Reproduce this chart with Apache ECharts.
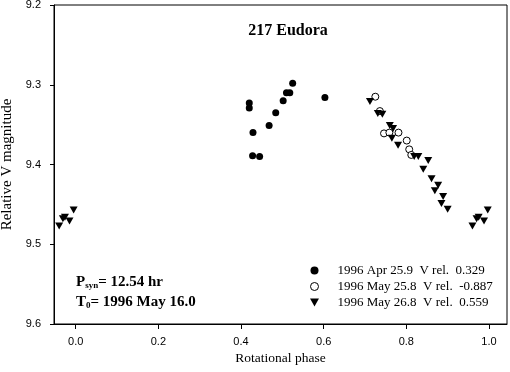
<!DOCTYPE html>
<html>
<head>
<meta charset="utf-8">
<script src="https://cdn.jsdelivr.net/npm/echarts@6/dist/echarts.min.js"></script>
<style>
html,body{margin:0;padding:0;background:#fff;}
#chart{width:510px;height:372px;}
</style>
</head>
<body>
<div id="chart"></div>
<script>
// ---- Data ----
const seriesNames = [
  '1996 Apr 25.9  V rel.  0.329',
  '1996 May 25.8  V rel.  -0.887',
  '1996 May 26.8  V rel.  0.559'
];
// 1996 Apr 25.9 (filled circles)
const aprPhase = [0.420, 0.420, 0.429, 0.428, 0.445, 0.468, 0.484, 0.502, 0.510, 0.518, 0.525, 0.603];
const aprMag   = [9.323, 9.329, 9.360, 9.389, 9.390, 9.351, 9.335, 9.320, 9.310, 9.310, 9.298, 9.316];
// 1996 May 25.8 (open circles)
const may25Phase = [0.725, 0.736, 0.746, 0.759, 0.781, 0.801, 0.807, 0.812];
const may25Mag   = [9.315, 9.333, 9.361, 9.360, 9.360, 9.370, 9.381, 9.388];
// 1996 May 26.8 (filled down-triangles)
const may26Phase = [-0.040, -0.031, -0.026, -0.015, -0.005,
  0.712, 0.731, 0.742, 0.760, 0.768, 0.765, 0.780, 0.819, 0.829, 0.853, 0.841,
  0.861, 0.877, 0.869, 0.889, 0.885, 0.900,
  0.960, 0.970, 0.975, 0.988, 0.997];
const may26Mag = [9.477, 9.468, 9.466, 9.471, 9.457,
  9.321, 9.336, 9.337, 9.351, 9.355, 9.367, 9.376, 9.390, 9.390, 9.395, 9.406,
  9.418, 9.426, 9.433, 9.440, 9.449, 9.456,
  9.477, 9.468, 9.466, 9.471, 9.457];
// Axis ticks
const xTicks = [0.0, 0.2, 0.4, 0.6, 0.8, 1.0];
const yTicks = [9.2, 9.3, 9.4, 9.5, 9.6];
const titleText = '217 Eudora';
const xTitle = 'Rotational phase';
const yTitle = 'Relative V magnitude';

const zip = (a, b) => a.map((v, i) => [v, b[i]]);
const triPath = 'path://M0,0L10,0L5,9Z';
const serif = '"Liberation Serif", "Times New Roman", serif';
const sans = '"Liberation Sans", Arial, sans-serif';

const subRich = {
  b: {font: 'bold 15px ' + serif, fill: '#000', verticalAlign: 'top', lineHeight: 17},
  s: {font: 'bold 9px ' + serif, fill: '#000', verticalAlign: 'top', lineHeight: 9, padding: [6, 0, 0, 0]}
};

const chart = echarts.init(document.getElementById('chart'), null, {renderer: 'canvas'});
chart.setOption({
  animation: false,
  backgroundColor: '#fff',
  grid: {left: 54, right: 3, top: 5, bottom: 48, show: true, borderColor: '#000', borderWidth: 1,
    backgroundColor: 'transparent', containLabel: false, outerBoundsMode: 'none'},
  xAxis: {
    type: 'value', min: -0.0525, max: 1.0436,
    name: xTitle, nameLocation: 'middle', nameGap: 24,
    nameTextStyle: {fontFamily: serif, fontSize: 13.5, color: '#000'},
    axisLine: {show: true, onZero: false, lineStyle: {color: '#000', width: 1}},
    axisTick: {show: true, length: 5, lineStyle: {color: '#000'}, customValues: xTicks},
    axisLabel: {color: '#000', fontFamily: sans, fontSize: 11, margin: 12, customValues: xTicks,
      formatter: v => Number(v).toFixed(1)},
    splitLine: {show: false}
  },
  yAxis: {
    type: 'value', min: 9.2, max: 9.6, interval: 0.1, inverse: true,
    axisLine: {show: true, onZero: false, lineStyle: {color: '#000', width: 1}},
    axisTick: {show: true, length: 4, lineStyle: {color: '#000'}},
    axisLabel: {color: '#000', fontFamily: sans, fontSize: 11, margin: 13,
      formatter: v => Number(v).toFixed(1)},
    splitLine: {show: false}
  },
  legend: {
    orient: 'vertical', left: 305, top: 259,
    itemWidth: 36, itemHeight: 8, itemGap: 3,
    textStyle: {fontFamily: serif, fontSize: 13, color: '#000'},
    data: [
      {name: seriesNames[0], icon: 'circle'},
      {name: seriesNames[1], icon: 'circle', itemStyle: {color: '#fff', borderColor: '#000', borderWidth: 1}},
      {name: seriesNames[2], icon: triPath}
    ]
  },
  series: [
    {name: seriesNames[0], type: 'scatter', data: zip(aprPhase, aprMag), symbol: 'circle', symbolSize: 7,
      itemStyle: {color: '#000', opacity: 1}},
    {name: seriesNames[1], type: 'scatter', data: zip(may25Phase, may25Mag), symbol: 'circle', symbolSize: 7,
      itemStyle: {color: '#fff', borderColor: '#000', borderWidth: 1, opacity: 1}},
    {name: seriesNames[2], type: 'scatter', data: zip(may26Phase, may26Mag), symbol: triPath, symbolSize: [8, 7],
      itemStyle: {color: '#000', opacity: 1}}
  ],
  graphic: [
    {type: 'text', x: 288, y: 31, style: {text: titleText, font: 'bold 16px ' + serif, fill: '#000', align: 'center', verticalAlign: 'middle'}},
    {type: 'text', x: 7, y: 164.5, rotation: Math.PI / 2, style: {text: yTitle, font: '15px ' + serif, fill: '#000', align: 'center', verticalAlign: 'middle'}},
    {type: 'text', x: 76, y: 275, style: {text: '{b|P}{s|syn}{b|= 12.54 hr}', rich: subRich}},
    {type: 'text', x: 76, y: 295, style: {text: '{b|T}{s|0}{b|= 1996 May 16.0}', rich: subRich}}
  ]
});
</script>
</body>
</html>
